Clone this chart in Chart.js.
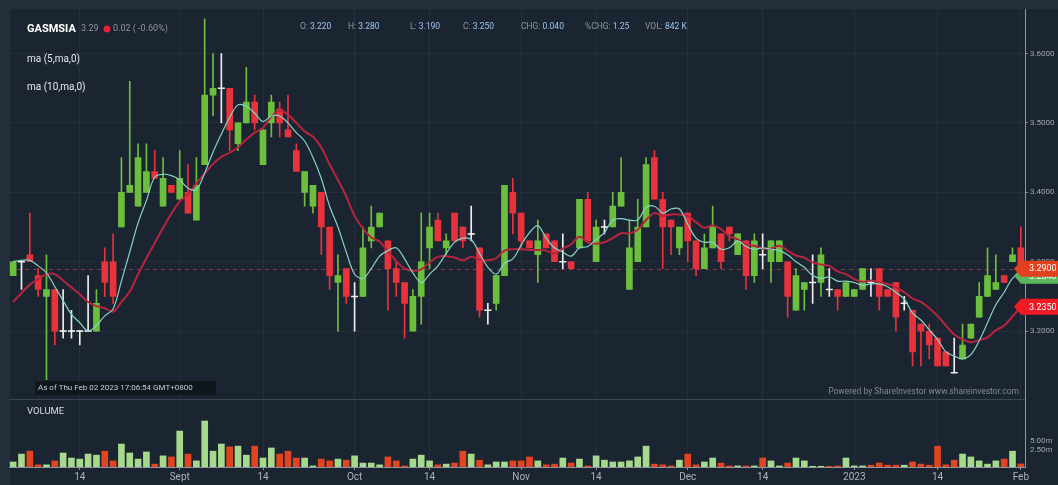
<!DOCTYPE html>
<html>
<head>
<meta charset="utf-8">
<title>GASMSIA</title>
<script src="https://cdn.jsdelivr.net/npm/chart.js@4.4.0/dist/chart.umd.min.js"></script>
<style>
  html, body { margin: 0; padding: 0; background: #232e3b; }
  #wrap { width: 1058px; height: 485px; }
</style>
</head>
<body>
<div id="wrap"><canvas id="stockChart" width="1058" height="485"></canvas></div>
<script>
// trading days (Bursa), Aug 2022 - Feb 2023
const aug22 = [3,4,5,8,9,10,11,12,15,16,17,18,19,22,23,24,25,26,29,30];
const sep22 = [1,2,5,6,7,8,9,12,13,14,15,19,20,21,22,23,26,27,28,29,30];
const oct22 = [3,4,5,6,7,11,12,13,14,17,18,19,20,21,25,26,27,28,31];
const nov22 = [1,2,3,4,7,8,9,10,11,14,15,16,17,18,21,22,23,24,25,29,30];
const dec22 = [1,2,5,6,7,8,9,12,13,14,15,16,19,20,21,22,23,27,28,29,30];
const jan23 = [3,4,5,6,9,10,11,12,13,16,17,18,19,20,25,26,27,30,31];
const feb23 = [2];

const opens = [3.28,3.30,3.31,3.28,3.25,3.26,3.20,3.20,3.20,3.20, 3.20,3.30,3.30,3.35,3.40,3.38,3.40,3.43,3.38,3.41,
  3.39,3.40,3.36,3.44,3.54,3.55,3.55,3.47,3.50,3.53, 3.44,3.50,3.52,3.49,3.46,3.40,3.38,3.40,3.35,3.27,
  3.29,3.25,3.25,3.33,3.35,3.33,3.29,3.27,3.20,3.25, 3.32,3.36,3.32,3.37,3.35,3.34,3.32,3.23,3.24,3.28,
  3.40,3.37,3.33,3.31,3.34,3.33,3.30,3.30,3.32,3.39, 3.30,3.35,3.35,3.38,3.26,3.30,3.35,3.45,3.39,3.36,
  3.32,3.37,3.33,3.29,3.32,3.34,3.35,3.31,3.33,3.28, 3.31,3.30,3.30,3.30,3.23,3.26,3.27,3.27,3.26,3.26,
  3.25,3.25,3.26,3.27,3.29,3.26,3.27,3.24,3.23,3.21, 3.20,3.19,3.17,3.14,3.16,3.19,3.22,3.25,3.26,3.28,
  3.30,3.32];
const highs = [3.30,3.30,3.37,3.29,3.31,3.26,3.26,3.23,3.20,3.28, 3.26,3.32,3.34,3.45,3.56,3.47,3.47,3.46,3.45,3.41,
  3.46,3.44,3.45,3.65,3.60,3.60,3.55,3.50,3.58,3.54, 3.49,3.54,3.53,3.54,3.47,3.43,3.41,3.40,3.35,3.31,
  3.29,3.27,3.35,3.38,3.37,3.33,3.30,3.27,3.26,3.37, 3.37,3.37,3.34,3.37,3.35,3.38,3.32,3.24,3.28,3.41,
  3.42,3.37,3.33,3.36,3.34,3.33,3.34,3.30,3.39,3.40, 3.36,3.36,3.40,3.45,3.36,3.39,3.45,3.46,3.40,3.36,
  3.35,3.37,3.33,3.34,3.38,3.34,3.35,3.34,3.33,3.34, 3.34,3.33,3.33,3.30,3.29,3.27,3.31,3.32,3.29,3.26,
  3.27,3.26,3.29,3.29,3.29,3.26,3.27,3.25,3.23,3.21, 3.21,3.19,3.17,3.19,3.21,3.21,3.27,3.32,3.31,3.28,
  3.32,3.35];
const lows = [3.28,3.26,3.30,3.25,3.13,3.18,3.19,3.19,3.18,3.20, 3.20,3.25,3.24,3.35,3.40,3.38,3.40,3.42,3.38,3.40,
  3.39,3.37,3.36,3.44,3.51,3.50,3.46,3.46,3.50,3.49, 3.44,3.48,3.48,3.48,3.43,3.38,3.37,3.31,3.26,3.20,
  3.24,3.20,3.25,3.32,3.35,3.23,3.25,3.19,3.20,3.21, 3.29,3.33,3.31,3.33,3.32,3.33,3.22,3.21,3.23,3.28,
  3.34,3.32,3.32,3.27,3.32,3.30,3.29,3.29,3.32,3.33, 3.30,3.34,3.35,3.38,3.26,3.30,3.35,3.39,3.29,3.31,
  3.31,3.30,3.28,3.29,3.32,3.29,3.33,3.31,3.26,3.27, 3.29,3.27,3.30,3.22,3.23,3.23,3.24,3.25,3.25,3.23,
  3.25,3.25,3.26,3.25,3.23,3.25,3.20,3.23,3.15,3.15, 3.16,3.15,3.15,3.14,3.16,3.19,3.22,3.25,3.26,3.27,
  3.30,3.29];
const closes = [3.30,3.30,3.30,3.26,3.26,3.20,3.20,3.20,3.20,3.20, 3.24,3.27,3.25,3.40,3.41,3.45,3.43,3.42,3.42,3.40,
  3.42,3.37,3.41,3.54,3.55,3.55,3.49,3.50,3.53,3.50, 3.49,3.53,3.50,3.48,3.43,3.43,3.41,3.35,3.28,3.28,
  3.25,3.25,3.32,3.35,3.37,3.29,3.27,3.24,3.25,3.30, 3.35,3.33,3.33,3.33,3.33,3.34,3.23,3.23,3.28,3.41,
  3.37,3.33,3.32,3.33,3.32,3.30,3.30,3.29,3.39,3.33, 3.35,3.35,3.38,3.40,3.32,3.35,3.44,3.39,3.35,3.35,
  3.35,3.33,3.29,3.32,3.35,3.30,3.34,3.34,3.28,3.33, 3.31,3.33,3.33,3.25,3.28,3.27,3.27,3.31,3.26,3.25,
  3.27,3.26,3.29,3.27,3.25,3.25,3.22,3.24,3.17,3.20, 3.18,3.15,3.15,3.14,3.18,3.21,3.25,3.28,3.27,3.27,
  3.31,3.29];
// volume in millions of shares
const volumes = [1.4,3.6,4.4,0.6,0.6,1.7,3.9,2.5,2.2,3.6, 3.3,4.4,1.7,6.4,3.9,2.2,4.2,0.8,3.1,2.8,
  10.0,3.6,1.7,12.8,4.4,6.4,5.6,5.8,3.3,5.8, 2.5,5.3,3.6,4.4,2.5,2.5,0.3,2.2,1.7,2.2,
  1.9,3.1,1.1,1.1,0.6,2.8,1.7,0.3,2.2,3.3, 1.7,0.6,0.8,1.1,4.4,3.6,1.9,0.6,1.4,1.4,
  1.7,1.7,2.8,1.7,0.6,0.8,2.5,1.1,2.2,0.3, 3.1,1.9,1.4,1.4,1.7,2.8,5.8,0.8,0.6,0.3,
  1.9,3.6,0.6,1.4,2.5,1.1,0.3,0.3,0.3,0.3, 2.5,1.7,0.3,1.1,2.5,1.7,0.2,0.2,0.2,0.3,
  2.5,0.3,0.3,0.5,1.1,0.5,0.5,0.5,1.4,0.8, 0.5,5.8,0.6,1.9,3.6,2.8,1.7,0.8,1.7,2.2,
  4.4,0.84];
// closes before Aug 3 (only used to seed the moving averages)
const prevCloses = [3.17,3.18,3.18,3.19,3.20,3.29,3.30,3.30,3.31];

const priceTicks = [3.2, 3.3, 3.4, 3.5, 3.6];
const volTicks = [2.5, 5];
const xTickIdx = [8, 20, 30, 41, 50, 61, 70, 81, 90, 101, 111, 121];
const xTickText = ['14', 'Sept', '14', 'Oct', '14', 'Nov', '14', 'Dec', '14', '2023', '14', 'Feb'];

const labels = [].concat(
  aug22.map(d => 'Aug ' + d + ' 2022'), sep22.map(d => 'Sep ' + d + ' 2022'),
  oct22.map(d => 'Oct ' + d + ' 2022'), nov22.map(d => 'Nov ' + d + ' 2022'),
  dec22.map(d => 'Dec ' + d + ' 2022'), jan23.map(d => 'Jan ' + d + ' 2023'),
  feb23.map(d => 'Feb ' + d + ' 2023'));

function movingAvg(n) {
  const all = prevCloses.concat(closes);
  return closes.map((c, i) => {
    const j = i + prevCloses.length;
    let s = 0;
    for (let k = j - n + 1; k <= j; k++) s += all[k];
    return s / n;
  });
}
const ma5 = movingAvg(5);
const ma10 = movingAvg(10);

const UP = '#6cbf3c', DOWN = '#e8323c', FLAT = '#eeeeee';
const UP_VOL = '#a6d98c', DOWN_VOL = '#e2441f';
const candleColor = i => closes[i] > opens[i] ? UP : closes[i] < opens[i] ? DOWN : FLAT;
const volColor = i => {
  if (closes[i] !== opens[i]) return closes[i] > opens[i] ? UP_VOL : DOWN_VOL;
  return (i > 0 && closes[i] < closes[i - 1]) ? DOWN_VOL : UP_VOL;
};

function drawTag(ctx, y, text, color) {
  ctx.beginPath();
  ctx.moveTo(1014, y);
  ctx.lineTo(1021, y - 8);
  ctx.lineTo(1058, y - 8);
  ctx.lineTo(1058, y + 8);
  ctx.lineTo(1021, y + 8);
  ctx.closePath();
  ctx.fillStyle = color;
  ctx.fill();
  ctx.fillStyle = '#ffffff';
  ctx.font = '9px Roboto';
  ctx.textAlign = 'left';
  ctx.textBaseline = 'middle';
  ctx.fillText(text, 1029, y + 0.5);
}

const decorations = {
  id: 'decorations',
  beforeDraw(chart) {
    const ctx = chart.ctx;
    ctx.save();
    ctx.fillStyle = '#232e3b';
    ctx.fillRect(0, 0, chart.width, chart.height);
    ctx.fillStyle = '#1b2531';
    ctx.fillRect(10, 9, chart.width - 10, chart.height - 9);
    ctx.restore();
  },
  beforeDatasetsDraw(chart) {
    const ctx = chart.ctx, y = chart.scales.y, area = chart.chartArea;
    const py = Math.round(y.getPixelForValue(closes[closes.length - 1])) + 0.5;
    ctx.save();
    ctx.strokeStyle = 'rgba(170,70,70,0.75)';
    ctx.lineWidth = 1;
    ctx.setLineDash([4, 4]);
    ctx.beginPath();
    ctx.moveTo(area.left, py);
    ctx.lineTo(area.right, py);
    ctx.stroke();
    ctx.setLineDash([]);
    // panel separator
    ctx.strokeStyle = '#3a4654';
    ctx.beginPath();
    ctx.moveTo(area.left, Math.round(y.bottom) + 0.5);
    ctx.lineTo(area.right, Math.round(y.bottom) + 0.5);
    ctx.stroke();
    ctx.restore();
  },
  afterDraw(chart) {
    const ctx = chart.ctx, y = chart.scales.y;
    ctx.save();
    ctx.textBaseline = 'middle';
    ctx.textAlign = 'left';
    ctx.font = 'bold 11px Roboto';
    ctx.fillStyle = '#ffffff';
    ctx.fillText('GASMSIA', 27, 29);
    ctx.font = '9px Roboto';
    ctx.fillStyle = '#8d96a0';
    ctx.fillText('3.29', 81, 29);
    ctx.fillStyle = '#e8203a';
    ctx.beginPath();
    ctx.arc(107, 29, 3.5, 0, Math.PI * 2);
    ctx.fill();
    ctx.fillStyle = '#8d96a0';
    ctx.fillText('0.02 ( -0.60%)', 113, 29);

    ctx.font = '10px Roboto';
    ctx.fillStyle = '#e4e8ec';
    ctx.fillText('ma (5,ma,0)', 27, 59);
    ctx.fillText('ma (10,ma,0)', 27, 87);

    const info = [['O: ', '3.220', 300], ['H: ', '3.280', 348], ['L: ', '3.190', 410], ['C: ', '3.250', 463],
      ['CHG: ', '0.040', 521], ['%CHG: ', '1.25', 585], ['VOL: ', '842 K', 645]];
    ctx.font = '8.5px Roboto';
    info.forEach(([k, v, x]) => {
      ctx.fillStyle = '#8d96a0';
      ctx.fillText(k, x, 27);
      ctx.fillStyle = '#9fc4ee';
      ctx.fillText(v, x + ctx.measureText(k).width, 27);
    });

    ctx.fillStyle = '#10161e';
    ctx.fillRect(35, 381, 181, 14);
    ctx.font = '8px Roboto';
    ctx.fillStyle = '#c4ccd4';
    ctx.fillText('As of Thu Feb 02 2023 17:06:54 GMT+0800', 38, 388);

    ctx.textAlign = 'right';
    ctx.font = '8.5px Roboto';
    ctx.fillStyle = '#7f8893';
    ctx.fillText('Powered by ShareInvestor www.shareinvestor.com', 1019, 392);

    ctx.textAlign = 'left';
    ctx.font = '9.5px Roboto';
    ctx.fillStyle = '#d8dde2';
    ctx.fillText('VOLUME', 27, 412);

    const n = closes.length - 1;
    drawTag(ctx, y.getPixelForValue(ma5[n]) + 3, ma5[n].toFixed(4), '#5cb85c');
    drawTag(ctx, y.getPixelForValue(closes[n]), closes[n].toFixed(4), '#e2401e');
    drawTag(ctx, y.getPixelForValue(ma10[n]), ma10[n].toFixed(4), '#ee1b24');
    ctx.restore();
  }
};

const ctx = document.getElementById('stockChart').getContext('2d');
new Chart(ctx, {
  data: {
    labels: labels,
    datasets: [
      {
        type: 'line', label: 'ma5', data: ma5, yAxisID: 'y', order: 1,
        borderColor: '#86d3c6', borderWidth: 1.2, pointRadius: 0, tension: 0.35, fill: false
      },
      {
        type: 'line', label: 'ma10', data: ma10, yAxisID: 'y', order: 2,
        borderColor: '#b8243e', borderWidth: 2, pointRadius: 0, tension: 0.35, fill: false
      },
      {
        type: 'line', label: 'doji', yAxisID: 'y', order: 3, showLine: false,
        data: closes.map((c, i) => c === opens[i] ? c : null),
        pointStyle: 'line', pointRadius: 3.5, pointBorderWidth: 1.5, pointBorderColor: FLAT
      },
      {
        type: 'bar', label: 'body', yAxisID: 'y', order: 4, grouped: false,
        data: opens.map((o, i) => [o, closes[i]]),
        backgroundColor: c => candleColor(c.dataIndex), barThickness: 6, borderWidth: 0
      },
      {
        type: 'bar', label: 'wick', yAxisID: 'y', order: 5, grouped: false,
        data: lows.map((l, i) => [l, highs[i]]),
        backgroundColor: c => candleColor(c.dataIndex), barThickness: 1, borderWidth: 0
      },
      {
        type: 'bar', label: 'volume', yAxisID: 'yv', order: 6, grouped: false,
        data: volumes,
        backgroundColor: c => volColor(c.dataIndex), barThickness: 6, borderWidth: 0
      }
    ]
  },
  options: {
    responsive: false,
    animation: false,
    events: [],
    layout: { padding: { left: 9, top: 9, right: 0, bottom: 0 } },
    plugins: { legend: { display: false }, tooltip: { enabled: false } },
    scales: {
      x: {
        type: 'category',
        offset: true,
        border: { color: '#8e97a1' },
        grid: {
          offset: false,
          color: c => xTickIdx.includes(c.index) ? 'rgba(255,255,255,0.05)' : 'rgba(0,0,0,0)',
          tickColor: c => xTickIdx.includes(c.index) ? '#8e97a1' : 'rgba(0,0,0,0)',
          tickLength: 3
        },
        ticks: {
          autoSkip: false, maxRotation: 0, padding: 1,
          color: '#aab2bb', font: { family: 'Roboto', size: 10 },
          callback: (v, i) => { const k = xTickIdx.indexOf(i); return k >= 0 ? xTickText[k] : ''; }
        },
        afterFit: s => { s.height = 18; }
      },
      y: {
        position: 'right', stack: 'main', stackWeight: 390,
        min: 3.102, max: 3.663,
        border: { color: '#8e97a1' },
        grid: { color: 'rgba(255,255,255,0.045)', tickColor: '#7d8690', tickLength: 3 },
        afterBuildTicks: s => { s.ticks = priceTicks.map(v => ({ value: v })); },
        ticks: {
          color: '#9ea7b1', font: { family: 'Roboto', size: 8 }, padding: 2,
          callback: v => v.toFixed(4)
        },
        afterFit: s => { s.width = 33; }
      },
      yv: {
        position: 'right', stack: 'main', stackWeight: 68,
        min: 0, max: 18.9,
        border: { color: '#8e97a1' },
        grid: { drawOnChartArea: false, drawTicks: false },
        afterBuildTicks: s => { s.ticks = volTicks.map(v => ({ value: v })); },
        ticks: {
          color: '#9ea7b1', font: { family: 'Roboto', size: 8 }, padding: 5, labelOffset: -8,
          callback: v => v.toFixed(2) + 'm'
        },
        afterFit: s => { s.width = 33; }
      }
    }
  },
  plugins: [decorations]
});
</script>
</body>
</html>
